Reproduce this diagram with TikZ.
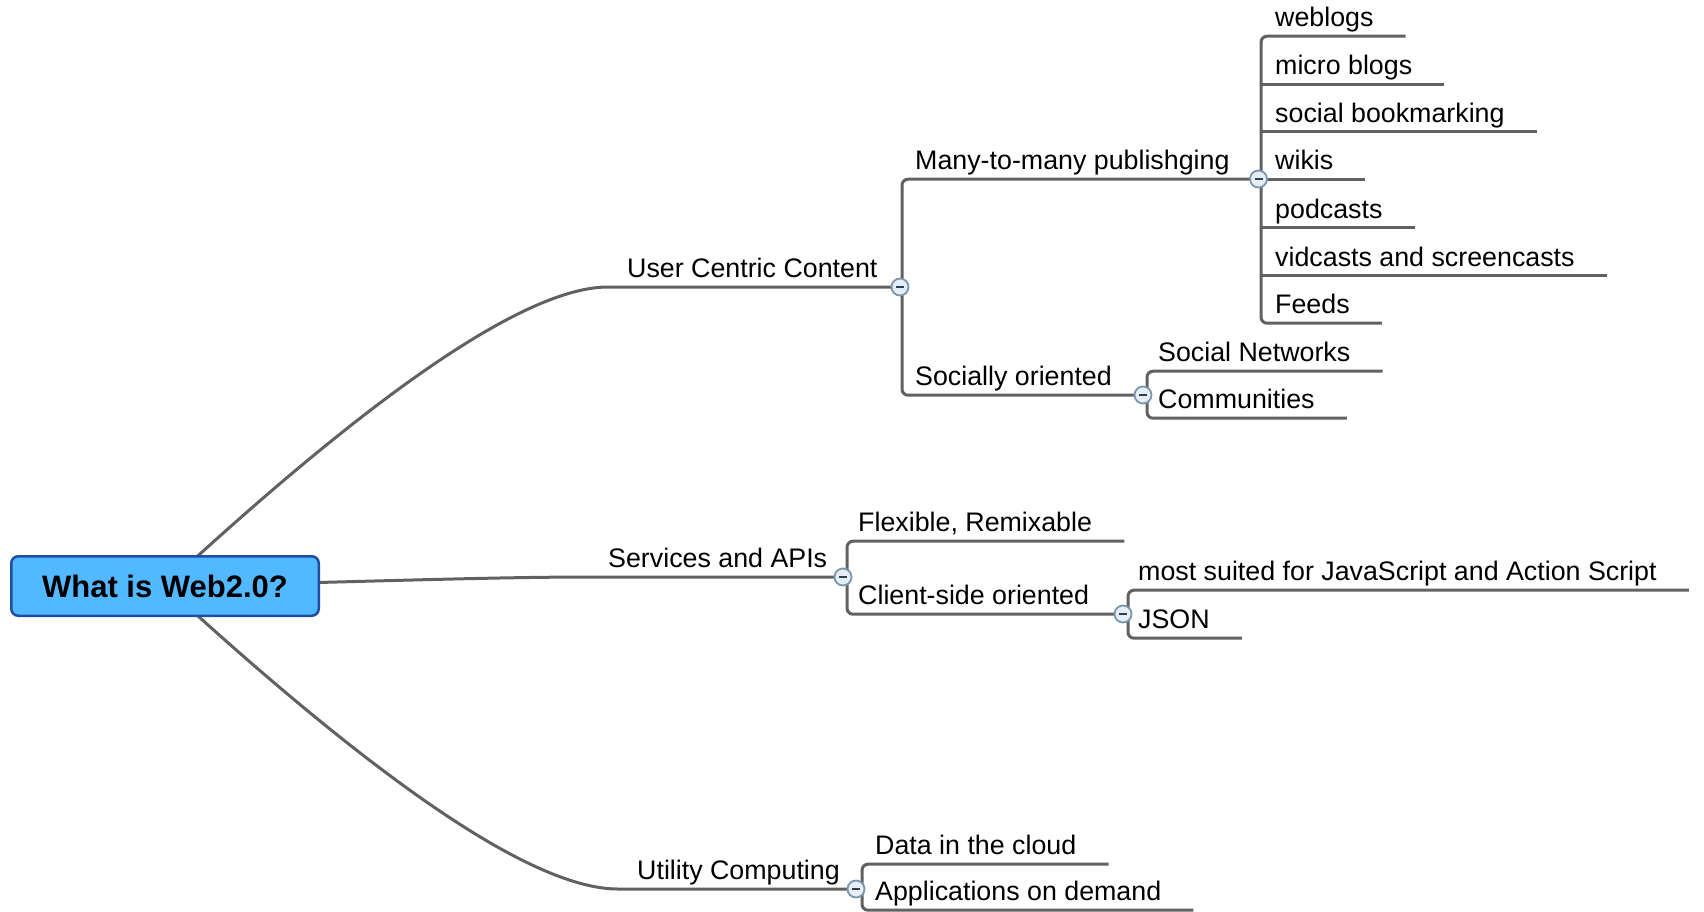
\documentclass[tikz,border=0pt]{standalone}
\usepackage{fontspec}
\setmainfont{Liberation Sans}
\usetikzlibrary{calc,backgrounds}
\definecolor{linegray}{HTML}{616161}
\definecolor{rootfill}{HTML}{52B8FF}
\definecolor{rootdraw}{HTML}{1E4FA0}
\definecolor{togfill}{HTML}{E6EDF4}
\definecolor{togdraw}{HTML}{7A96AE}
\definecolor{togminus}{HTML}{27415C}
\newcommand{\topicfont}{\fontsize{26.8}{32}\selectfont}
\newcommand{\rootfont}{\fontsize{31}{36}\selectfont\bfseries}
\tikzset{
  branch/.style={draw=linegray, line width=3pt},
  topic/.style={font=\topicfont, inner sep=0pt, text height=20pt, text depth=9.5pt, anchor=base west},
  toggle/.style={circle, draw=togdraw, fill=togfill, line width=1.8pt, minimum size=17pt, inner sep=0pt,
    path picture={\draw[togminus, line width=2pt]
      ([xshift=-4pt]path picture bounding box.center) -- ([xshift=4pt]path picture bounding box.center);}},
  rootbox/.style={rectangle, rounded corners=7pt, fill=rootfill, draw=rootdraw, line width=2.5pt,
    minimum width=307.5pt, minimum height=59.5pt, inner sep=0pt, font=\rootfont}
}
\begin{document}
\begin{tikzpicture}[x=1pt,y=-1pt]
\useasboundingbox (0,0) rectangle (1704,911);

% root
\node[rootbox] (root) at (165,586) {What is Web2.0?};

% level 1
\node[topic] (ucc) at (627,277.5) {User Centric Content};
\node[toggle] (uccT) at (900,287) {};
\coordinate (uccL) at (608,287);

\node[topic] (services) at (608,567.5) {Services and APIs};
\node[toggle] (servicesT) at (843,577) {};
\coordinate (servL) at (590,577);

\node[topic] (utility) at (637,879.5) {Utility Computing};
\node[toggle] (utilityT) at (856,889) {};
\coordinate (utilL) at (618,889);

% level 2 under User Centric Content
\node[topic] (m2m) at (915,169.5) {Many-to-many publishging};
\node[toggle] (m2mT) at (1258.5,179) {};
\node[topic] (soc) at (915,385.5) {Socially oriented};
\node[toggle] (socT) at (1143,395) {};

% leaves of Many-to-many
\node[topic] (weblogs) at (1275,26.5) {weblogs};
\node[topic] (microblogs) at (1275,74.5) {micro blogs};
\node[topic] (socialbm) at (1275,122) {social bookmarking};
\node[topic] (wikis) at (1275,169.5) {wikis};
\node[topic] (podcasts) at (1275,218) {podcasts};
\node[topic] (vidcasts) at (1275,266) {vidcasts and screencasts};
\node[topic] (feeds) at (1275,313.5) {Feeds};

% leaves of Socially oriented
\node[topic] (socnet) at (1158,361.5) {Social Networks};
\node[topic] (communities) at (1158,408.5) {Communities};

% Services children
\node[topic] (flexible) at (858,531.5) {Flexible, Remixable};
\node[topic] (client) at (858,604.5) {Client-side oriented};
\node[toggle] (clientT) at (1123,614) {};
\node[topic] (jsscript) at (1138,580.5) {most suited for JavaScript and Action Script};
\node[topic] (json) at (1138,628.5) {JSON};

% Utility children
\node[topic] (datacloud) at (875,854.5) {Data in the cloud};
\node[topic] (appdemand) at (875,900.5) {Applications on demand};

\begin{scope}[on background layer]
  % root connectors
  \draw[branch] (root.center) .. controls (381,386) and (529,287) .. (uccL) -- (uccT.center);
  \draw[branch] (root.center) .. controls (330,583) and (480,577) .. (servL) -- (servicesT.center);
  \draw[branch] (root.center) .. controls (384,787) and (535,889) .. (utilL) -- (utilityT.center);

  % User Centric Content bracket
  \draw[branch, rounded corners=6pt] (m2mT.center) -- ([xshift=-13pt]m2m.south west)
     -- ([xshift=-13pt]soc.south west) -- (socT.center);

  % Many-to-many bracket
  \draw[branch, rounded corners=6pt] ([xshift=32pt]weblogs.south east) -- ([xshift=-14pt]weblogs.south west)
     -- ([xshift=-14pt]feeds.south west) -- ([xshift=32pt]feeds.south east);
  \foreach \n in {microblogs,socialbm,wikis,podcasts,vidcasts}
    \draw[branch] ([xshift=-14pt]\n.south west) -- ([xshift=32pt]\n.south east);

  % Socially oriented bracket
  \draw[branch, rounded corners=6pt] ([xshift=32pt]socnet.south east) -- ([xshift=-11pt]socnet.south west)
     -- ([xshift=-11pt]communities.south west) -- ([xshift=32pt]communities.south east);

  % Services bracket
  \draw[branch, rounded corners=6pt] ([xshift=32pt]flexible.south east) -- ([xshift=-11pt]flexible.south west)
     -- ([xshift=-11pt]client.south west) -- (clientT.center);

  % Client-side bracket
  \draw[branch, rounded corners=6pt] ([xshift=32pt]jsscript.south east) -- ([xshift=-10pt]jsscript.south west)
     -- ([xshift=-10pt]json.south west) -- ([xshift=32pt]json.south east);

  % Utility bracket
  \draw[branch, rounded corners=6pt] ([xshift=32pt]datacloud.south east) -- ([xshift=-13pt]datacloud.south west)
     -- ([xshift=-13pt]appdemand.south west) -- ([xshift=32pt]appdemand.south east);
\end{scope}
\end{tikzpicture}
\end{document}
